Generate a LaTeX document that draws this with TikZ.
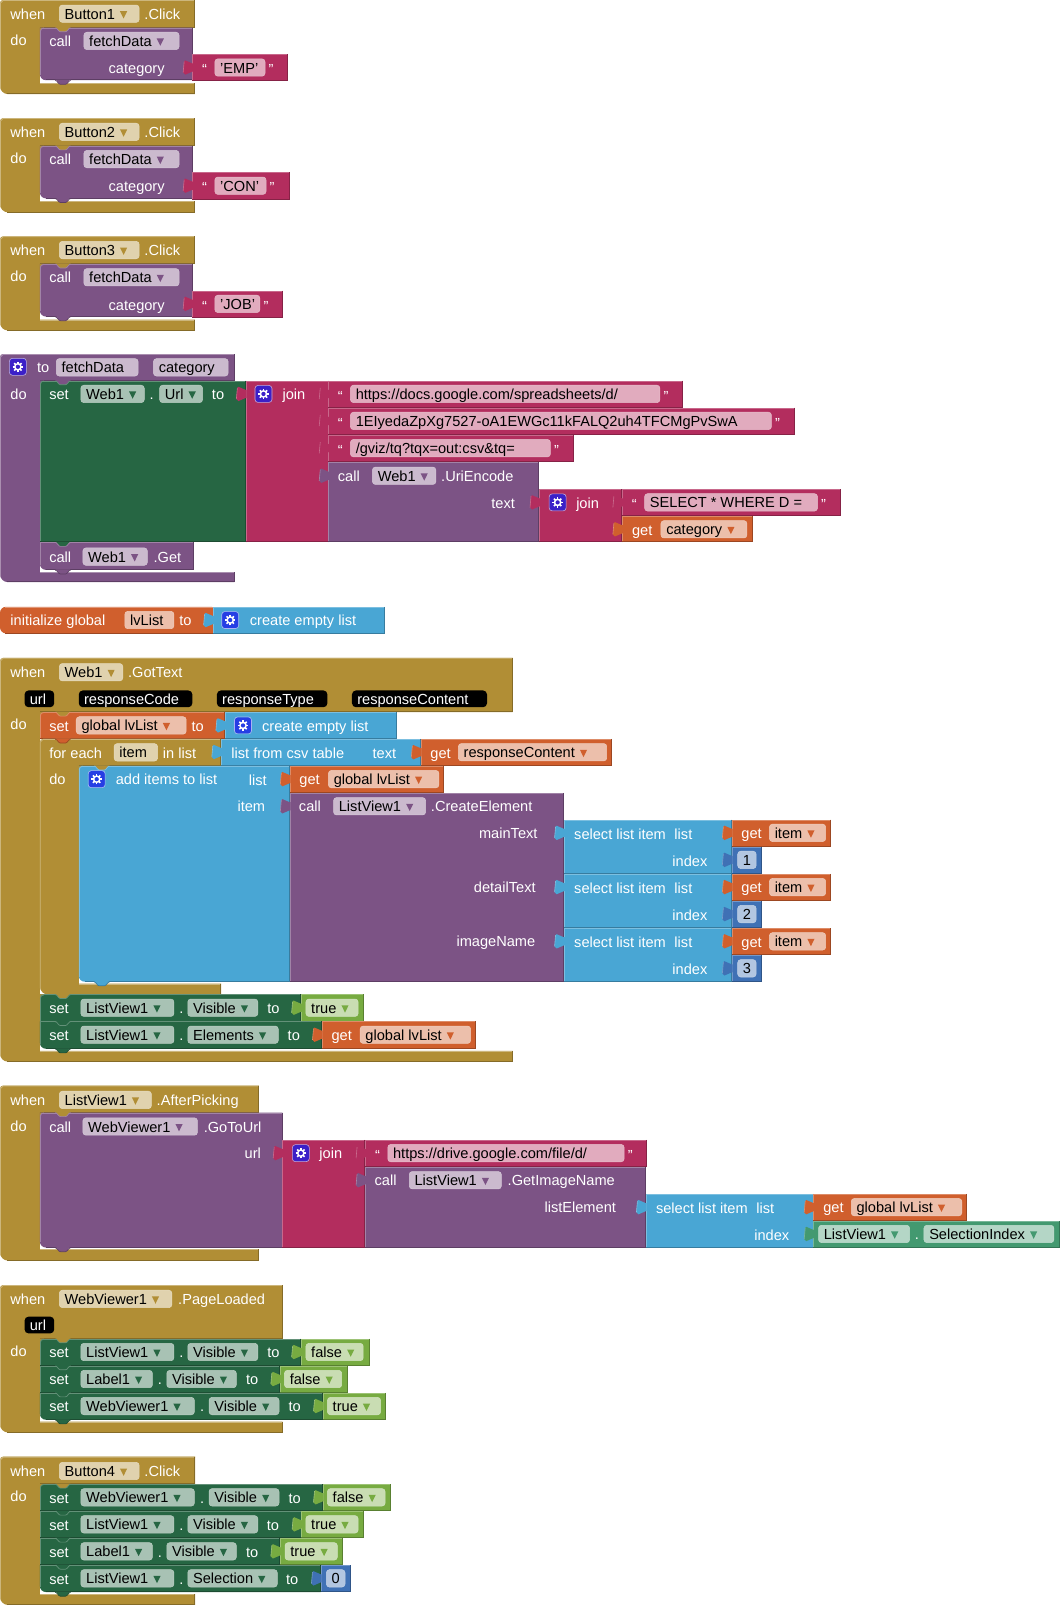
\documentclass[tikz,border=0pt]{standalone}
\usepackage{fontspec}
\setmainfont{Liberation Sans}
\definecolor{gold}{RGB}{177,142,53}
\definecolor{purp}{RGB}{124,83,133}
\definecolor{mag}{RGB}{179,45,94}
\definecolor{dgreen}{RGB}{38,102,67}
\definecolor{orng}{RGB}{208,95,45}
\definecolor{lblue}{RGB}{73,166,212}
\definecolor{mblue}{RGB}{63,113,181}
\definecolor{lgreen}{RGB}{119,171,65}
\definecolor{teal2}{RGB}{67,153,112}
\definecolor{gearc}{RGB}{59,32,200}
\definecolor{gearb}{RGB}{38,62,228}
\newcommand\lf{\fontsize{14.6}{16}\selectfont}
% white label
\newcommand\tx[3]{\node[anchor=base west,inner sep=0pt,text=white,font=\lf] at (#1,#2+5.4) {#3};}
% block
\newcommand\bk[5]{\fill[#1] (#2,#3) rectangle (#4,#5);
 \draw[#1!72!white,line width=.8pt] (#2+.4,#5) -- (#2+.4,#3+.4) -- (#4,#3+.4);
 \draw[#1!75!black,line width=.8pt] (#4-.4,#3) -- (#4-.4,#5-.4) -- (#2,#5-.4);}
% block with rounded bottom-left
\newcommand\bkr[5]{\fill[#1] (#2,#3) -- (#4,#3) -- (#4,#5) [rounded corners=6pt] -- (#2,#5) [sharp corners] -- (#2,#3) -- cycle;
 \draw[#1!72!white,line width=.8pt] (#2+.4,#5-5) -- (#2+.4,#3+.4) -- (#4,#3+.4);
 \draw[#1!75!black,line width=.8pt] (#4-.4,#3) -- (#4-.4,#5-.4) -- (#2+6,#5-.4);}
% C-shaped block: col,x0,xin,xr,y0,yh,yb,ye
\newcommand\cshape[8]{\fill[#1] (#4,#5) [rounded corners=3pt] -- (#2,#5) [rounded corners=8pt] -- (#2,#8) [sharp corners] -- (#4,#8) -- (#4,#7) -- (#3,#7) -- (#3,#6) -- (#4,#6) -- cycle;
 \draw[#1!65!white,line width=.8pt] (#2+.4,#8-6) -- (#2+.4,#5+3) -- (#2+3,#5+.4) -- (#4,#5+.4);
 \draw[#1!65!white,line width=.8pt] (#3,#7+.4) -- (#4,#7+.4);
 \draw[#1!75!black,line width=.8pt] (#4-.4,#7) -- (#4-.4,#8-.4) -- (#2+7,#8-.4);
 \draw[#1!75!black,line width=.8pt] (#4-.4,#5) -- (#4-.4,#6-.4) -- (#3,#6-.4);}
% tab below y, at block left x: fill, stroke, x, y
\newcommand\tabb[4]{\fill[#1] (#3+15,#4-.5) .. controls (#3+17,#4-.5) and (#3+18,#4+4) .. (#3+20,#4+4) -- (#3+25,#4+4) .. controls (#3+27,#4+4) and (#3+28,#4-.5) .. (#3+30,#4-.5) -- cycle;
 \draw[#2,line width=.7pt] (#3+15,#4+.2) .. controls (#3+17,#4+.2) and (#3+18,#4+4) .. (#3+20,#4+4) -- (#3+25,#4+4) .. controls (#3+27,#4+4) and (#3+28,#4+.2) .. (#3+30,#4+.2);}
% rounded top-left corner: background, block colour, x, y
\newcommand\tlc[4]{\fill[#1] (#3,#4) -- (#3+4,#4) .. controls (#3+1.5,#4) and (#3,#4+1.5) .. (#3,#4+4) -- cycle;
 \draw[#2!72!white,line width=.8pt] (#3+4,#4+.4) .. controls (#3+1.7,#4+.4) and (#3+.4,#4+1.7) .. (#3+.4,#4+4);}
% plug
\newcommand\pl[3]{\fill[#1] (#2+1,#3-4) -- (#2,#3-4) .. controls (#2-3,#3-4) and (#2-4,#3-7) .. (#2-7,#3-7) -- (#2-8,#3-6) -- (#2-9,#3+5) -- (#2-7,#3+7) .. controls (#2-4,#3+7) and (#2-3,#3+4) .. (#2,#3+4) -- (#2+1,#3+4) -- cycle;
 \draw[#1!70!white,line width=.6pt] (#2-8,#3-6) -- (#2-9,#3+5);}
% pills
\newcommand\pilbase[4]{\fill[#1!40!white,rounded corners=3pt] (#2,#4-8.5) rectangle (#3,#4+8.5);
 \draw[#1!32!white,rounded corners=3pt,line width=.5pt] (#2,#4-8.5) rectangle (#3,#4+8.5);}
\newcommand\pila[5]{\pilbase{#1}{#2}{#3}{#4}
 \node[anchor=base west,inner sep=0pt,text=black,font=\lf] (ptxt) at (#2+5,#4+5.4) {#5};
 \fill[#1] ([shift={(4.8pt,8pt)}]ptxt.base east) -- ([shift={(12pt,8pt)}]ptxt.base east) -- ([shift={(8.4pt,.7pt)}]ptxt.base east) -- cycle;}
\newcommand\piln[5]{\pilbase{#1}{#2}{#3}{#4}
 \node[anchor=base west,inner sep=0pt,text=black,font=\lf] at (#2+5,#4+5.4) {#5};}
\newcommand\pilk[4]{\fill[black,rounded corners=4pt] (#1,#3-8.2) rectangle (#2,#3+8.2);
 \node[anchor=base west,inner sep=0pt,text=white,font=\lf] at (#1+5,#3+5.4) {#4};}
% gear
\newcommand\gearic[2]{\fill[gearc,rounded corners=3pt] (#1-8,#2-8) rectangle (#1+8,#2+8);
 \draw[gearc!40!white,rounded corners=3pt,line width=.6pt] (#1-8.3,#2-8.3) rectangle (#1+8.3,#2+8.3);
 \fill[white] (#1,#2) circle[radius=3.8];
 \foreach \a in {0,45,90,135} \draw[white,line width=1.6pt,rotate around={\a:(#1,#2)}] (#1-5.1,#2) -- (#1+5.1,#2);
 \fill[gearc] (#1,#2) circle[radius=2.1];}
\newcommand\gearbl[2]{\begingroup\colorlet{gearc}{gearb}\gearic{#1}{#2}\endgroup}
% text string block: x1,x2,y1,y2,fx1,fx2,text
\newcommand\strb[7]{\bk{mag}{#1}{#3}{#2}{#4}\pl{mag}{#1}{#3+13}
 \piln{mag}{#5}{#6}{#3+13}{#7}
 \node[anchor=base,inner sep=0pt,text=white,font=\lf] at (#5-10,#3+20) {“};
 \node[anchor=base,inner sep=0pt,text=white,font=\lf] at (#6+6,#3+20) {”};}
% orange get: x1,x2,y1,y2,fx1,fx2,text
\newcommand\getb[7]{\bk{orng}{#1}{#3}{#2}{#4}\pl{orng}{#1}{#3+13}
 \tx{#1+9.5}{#3+13.3}{get}\pila{orng}{#5}{#6}{#3+13}{#7}}
% logic block
\newcommand\logb[7]{\bk{lgreen}{#1}{#3}{#2}{#4}\pl{lgreen}{#1}{#3+13}
 \pila{lgreen}{#5}{#6}{#3+13}{#7}}
% number
\newcommand\numb[7]{\bk{mblue}{#1}{#3}{#2}{#4}\pl{mblue}{#1}{#3+13}
 \pilbase{mblue}{#5}{#6}{#3+13}
 \node[anchor=base,inner sep=0pt,text=black,font=\lf] at ({(#5+#6)/2},#3+18.4) {#7};}
% setter: y1,y2,xr,f1x2,obj,dotx,fx1,fx2,prop
\newcommand\setcont[9]{\tx{48}{#1+13.3}{set}\pila{dgreen}{79}{#4}{#1+13}{#5}
 \tx{#6}{#1+13.3}{.}\pila{dgreen}{#7}{#8}{#1+13}{#9}}
\newcommand\setr[9]{\bk{dgreen}{39}{#1}{#3}{#2}\setcont{#1}{#2}{#3}{#4}{#5}{#6}{#7}{#8}{#9}}
\newcommand\setrl[9]{\bkr{dgreen}{39}{#1}{#3}{#2}\setcont{#1}{#2}{#3}{#4}{#5}{#6}{#7}{#8}{#9}}
% select list item: x1,x2,y1
\newcommand\selb[3]{\bk{lblue}{#1}{#3}{#2}{#3+52.7}\pl{lblue}{#1}{#3+13}
 \tx{#1+10}{#3+14}{select list item}\tx{#1+108}{#3+14}{list}\tx{#1+106}{#3+40}{index}}
% when button block
\newcommand\btn[6]{\cshape{gold}{0}{39}{190.5}{#1}{#1+27}{#1+81.3}{#1+92}
 \tx{10}{#1+13.4}{when}\pila{gold}{58}{136}{#1+13.4}{#2}\tx{141}{#1+13.4}{.Click}\tx{10}{#1+39}{do}
 \bkr{purp}{39}{#1+27}{188}{#1+78.4}\tabb{gold}{purp!72!white}{39}{#1+27}\tlc{gold}{purp}{39}{#1+27}\tabb{purp}{purp!75!black}{39}{#1+78.4}
 \tx{48}{#1+40}{call}\pila{purp}{82}{175}{#1+40}{fetchData}\tx{106}{#1+66.6}{category}
 \strb{188}{#4}{#1+53}{#1+79.4}{210}{#5}{#6}}
\begin{document}
\begin{tikzpicture}[x=1.02317pt,y=-1.02317pt]
\useasboundingbox (0,0) rectangle (1036,1568.65);
\fill[white] (0,0) rectangle (1036,1568.65);
% Buttons
\btn{0}{Button1}{}{281}{259}{'EMP'}
\btn{115.5}{Button2}{}{283}{260}{'CON'}
\btn{231}{Button3}{}{276}{254}{'JOB'}
% procedure
\cshape{purp}{0}{39}{229}{346}{372}{559.5}{569}
\gearic{17.5}{358.5}\tx{36}{359}{to}\piln{purp}{55}{135}{359}{fetchData}\piln{purp}{150}{223}{359}{category}\tx{10}{385}{do}
\bk{dgreen}{39}{372}{240}{530}\tabb{purp}{dgreen!72!white}{39}{372}\tlc{purp}{dgreen}{39}{372}
\tx{48}{385.3}{set}\pila{dgreen}{79}{141}{385}{Web1}\tx{146}{385.3}{.}\pila{dgreen}{156}{198}{385}{Url}\tx{207}{385.3}{to}
\bk{mag}{240}{372}{321}{530}\pl{mag}{240}{385}\gearic{257.5}{385}\tx{276}{385.3}{join}
\strb{321}{667}{372}{398.4}{342.5}{645}{https://docs.google.com/spreadsheets/d/}
\strb{321}{777}{398.4}{425}{342.5}{754}{1EIyedaZpXg7527-oA1EWGc11kFALQ2uh4TFCMgPvSwA}
\strb{321}{561}{425}{451.5}{342.5}{538}{/gviz/tq?tqx=out:csv\&tq=}
\bk{purp}{321}{451.5}{527}{530}\pl{purp}{321}{465}\tx{330}{465}{call}\pila{purp}{364}{426}{465}{Web1}\tx{431}{465}{.UriEncode}\tx{480}{491.3}{text}
\bk{mag}{527}{478}{608}{530}\pl{mag}{527}{491}\gearic{545}{491}\tx{563}{491.3}{join}
\strb{608}{822}{478}{504.3}{630}{799}{SELECT * WHERE D =}
\getb{608}{736}{504.3}{530}{646}{730}{category}
\bkr{purp}{39}{530}{189}{557}\tabb{dgreen}{purp!72!white}{39}{530}\tabb{purp}{purp!75!black}{39}{557}
\tx{48}{544}{call}\pila{purp}{81}{144}{544}{Web1}\tx{150}{544}{.Get}
% initialize global
\fill[orng,rounded corners=6pt] (0,593) rectangle (212,619);
\fill[orng] (200,593) rectangle (208,619);
\fill[white] (208,592) rectangle (214,620);
\draw[orng!65!white,line width=.8pt] (5,593.4) -- (208,593.4);
\draw[orng!75!black,line width=.8pt] (5,618.6) -- (208,618.6);
\tx{10}{606}{initialize global}\piln{orng}{122}{170}{606}{lvList}\tx{175}{606}{to}
\bk{lblue}{208}{593}{376}{619}\pl{lblue}{208}{606}\gearbl{225}{606}\tx{244}{606}{create empty list}
% when Web1
\cshape{gold}{0}{39}{501}{643}{695.9}{1027}{1037.6}
\tx{10}{657}{when}\pila{gold}{58}{120}{657}{Web1}\tx{125}{657}{.GotText}
\pilk{24}{53}{683}{url}\pilk{77}{188}{683}{responseCode}\pilk{212}{320}{683}{responseType}\pilk{344}{476}{683}{responseContent}
\tx{10}{708}{do}
\bk{orng}{39}{695.9}{220}{722.2}\tabb{gold}{orng!72!white}{39}{695.9}\tlc{gold}{orng}{39}{695.9}
\tx{48}{709.4}{set}\pila{orng}{74.5}{182}{709}{global lvList}\tx{187}{709.4}{to}
\bk{lblue}{220}{695.9}{388}{722.2}\pl{lblue}{220}{709}\gearbl{237.5}{709}\tx{256}{709.4}{create empty list}
\cshape{gold}{39}{77}{216}{722.2}{748.5}{961.3}{971.9}
\tabb{orng}{orng!75!black}{39}{722.2}
\tx{48}{735.5}{for each}\piln{gold}{111.5}{154}{735.3}{item}\tx{159}{735.5}{in list}\tx{48}{761}{do}
\bk{lblue}{216}{722.2}{411}{748.5}\pl{lblue}{216}{735}\tx{226}{735.5}{list from csv table}\tx{364}{735.5}{text}
\getb{411}{598}{722.2}{748.5}{448}{593}{responseContent}
\bkr{lblue}{77}{748.5}{283}{959.5}\tabb{gold}{lblue!72!white}{77}{748.5}\tlc{gold}{lblue}{77}{748.5}\tabb{lblue}{lblue!75!black}{77}{959.5}
\gearbl{94.5}{761.5}\tx{113}{761.5}{add items to list}\tx{243}{762}{list}\tx{232}{788}{item}
\getb{283}{434}{748.5}{775}{321}{429}{global lvList}
\bk{purp}{283}{775}{551}{959.5}\pl{purp}{283}{788}\tx{292}{788}{call}\pila{purp}{326}{416}{788}{ListView1}\tx{421}{788}{.CreateElement}
\tx{468}{814}{mainText}\tx{463}{867}{detailText}\tx{446}{920}{imageName}
\selb{551}{715}{801}\getb{715}{812}{801}{827.4}{752}{807}{item}\numb{715}{745}{827.4}{853.7}{721}{739}{1}
\selb{551}{715}{854}\getb{715}{812}{854}{880.4}{752}{807}{item}\numb{715}{745}{880.4}{906.7}{721}{739}{2}
\selb{551}{715}{907}\getb{715}{812}{907}{933.4}{752}{807}{item}\numb{715}{745}{933.4}{959.7}{721}{739}{3}
\setr{971.9}{998.3}{294}{170}{ListView1}{175}{183.5}{252}{Visible}\tx{261}{985.2}{to}\tabb{gold}{dgreen!72!white}{39}{971.9}\tlc{gold}{dgreen}{39}{971.9}
\logb{294}{356}{971.9}{998.3}{299}{350}{true}
\setrl{998.3}{1025}{314.4}{170}{ListView1}{175}{183.5}{272}{Elements}\tx{281}{1011.6}{to}\tabb{dgreen}{dgreen!72!white}{39}{998.3}\tabb{dgreen}{dgreen!75!black}{39}{1025}
\getb{314.4}{465}{998.3}{1025}{352}{460}{global lvList}
% when ListView1
\cshape{gold}{0}{39}{253}{1061}{1087.3}{1221}{1232}
\tx{10}{1075}{when}\pila{gold}{58}{148}{1075}{ListView1}\tx{153}{1075}{.AfterPicking}\tx{10}{1100}{do}
\bkr{purp}{39}{1087.3}{276}{1219.3}\tabb{gold}{purp!72!white}{39}{1087.3}\tlc{gold}{purp}{39}{1087.3}\tabb{purp}{purp!75!black}{39}{1219.3}
\tx{48}{1101}{call}\pila{purp}{81}{193}{1101}{WebViewer1}\tx{199}{1101}{.GoToUrl}\tx{239}{1127}{url}
\bk{mag}{276}{1114}{357}{1219.3}\pl{mag}{276}{1127}\gearic{294}{1127}\tx{312}{1127.3}{join}
\strb{357}{632}{1114}{1140.4}{379}{610}{https://drive.google.com/file/d/}
\bk{purp}{357}{1140.4}{631}{1219.3}\pl{purp}{357}{1153.5}\tx{366}{1153.7}{call}\pila{purp}{400}{490}{1153.5}{ListView1}\tx{496}{1153.7}{.GetImageName}\tx{532}{1180}{listElement}
\selb{631}{795}{1166.8}
\getb{795}{945}{1166.8}{1193.2}{832}{940}{global lvList}
\bk{teal2}{795}{1193.2}{1036}{1219.5}\pl{teal2}{795}{1206}\pila{teal2}{800}{889}{1206}{ListView1}\tx{894}{1206.3}{.}\pila{teal2}{903}{1030}{1206}{SelectionIndex}
% when WebViewer1
\cshape{gold}{0}{39}{276}{1256}{1308.4}{1389.5}{1400}
\tx{10}{1269.5}{when}\pila{gold}{58}{168}{1269.5}{WebViewer1}\tx{174}{1269.5}{.PageLoaded}\pilk{24}{53}{1295}{url}\tx{10}{1320}{do}
\setr{1308.4}{1334.8}{294}{170}{ListView1}{175}{183.5}{252}{Visible}\tx{261}{1321.7}{to}\tabb{gold}{dgreen!72!white}{39}{1308.4}\tlc{gold}{dgreen}{39}{1308.4}
\logb{294}{361}{1308.4}{1334.8}{299}{355}{false}
\setr{1334.8}{1361.2}{273.7}{149}{Label1}{154}{163}{231}{Visible}\tx{240.4}{1348.1}{to}\tabb{dgreen}{dgreen!72!white}{39}{1334.8}
\logb{273.7}{340}{1334.8}{1361.2}{278}{334}{false}
\setrl{1361.2}{1387.6}{315.4}{190}{WebViewer1}{195.5}{204.3}{272.7}{Visible}\tx{281.8}{1374.5}{to}\tabb{dgreen}{dgreen!72!white}{39}{1361.2}\tabb{dgreen}{dgreen!75!black}{39}{1387.6}
\logb{315.4}{377}{1361.2}{1387.6}{320}{372}{true}
% when Button4
\cshape{gold}{0}{39}{190.6}{1423.7}{1450.4}{1558}{1568.6}
\tx{10}{1437.7}{when}\pila{gold}{58}{136}{1437.7}{Button4}\tx{141}{1437.7}{.Click}\tx{10}{1462.5}{do}
\setr{1450.4}{1476.8}{315.4}{190}{WebViewer1}{195.5}{204.3}{272.7}{Visible}\tx{281.8}{1463.7}{to}\tabb{gold}{dgreen!72!white}{39}{1450.4}\tlc{gold}{dgreen}{39}{1450.4}
\logb{315.4}{381.5}{1450.4}{1476.8}{320}{376.4}{false}
\setr{1476.8}{1503.2}{294.5}{170}{ListView1}{175}{183.5}{252}{Visible}\tx{260.6}{1490.1}{to}\tabb{dgreen}{dgreen!72!white}{39}{1476.8}
\logb{294.5}{356}{1476.8}{1503.2}{299}{350}{true}
\setr{1503.2}{1529.6}{273.7}{149}{Label1}{154}{163}{231}{Visible}\tx{240.4}{1516.5}{to}\tabb{dgreen}{dgreen!72!white}{39}{1503.2}
\logb{273.7}{335}{1503.2}{1529.6}{278.6}{329.7}{true}
\setrl{1529.6}{1556}{313.4}{170}{ListView1}{175}{183.5}{271}{Selection}\tx{279.5}{1542.9}{to}\tabb{dgreen}{dgreen!72!white}{39}{1529.6}\tabb{dgreen}{dgreen!75!black}{39}{1556}
\numb{313.4}{342.7}{1529.6}{1556}{319}{337.2}{0}
\end{tikzpicture}
\end{document}
